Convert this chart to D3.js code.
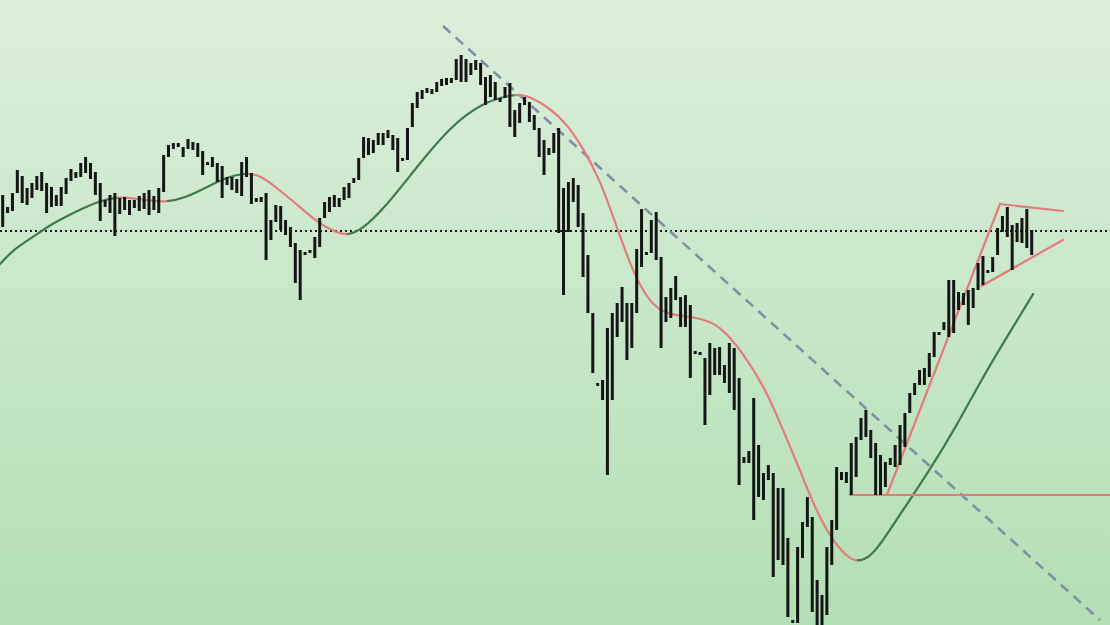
<!DOCTYPE html>
<html>
<head>
<meta charset="utf-8">
<script src="https://cdn.jsdelivr.net/npm/d3@7"></script>
<style>
html,body{margin:0;padding:0;background:#cfe9cf;}
svg{display:block;}
</style>
</head>
<body>
<svg id="chart" width="1110" height="625"></svg>
<script>
// ---- data (bar index = trading session, prices in index points) ----
const highs = [5050,4930,5070,5300,5240,5120,5170,5240,5280,5170,5130,5050,5130,5220,5310,5280,5370,5430,5370,5280,
5170,5000,5050,5070,5020,5030,5000,5000,5040,5070,5100,5040,5120,5450,5550,5570,5570,5530,5610,5580,
5570,5490,5380,5430,5370,5340,5230,5230,5210,5380,5430,5270,5020,5030,5070,4800,4950,4940,4800,4730,
4570,4500,4480,4500,4630,4820,4980,5030,5050,5020,5130,5170,5220,5420,5630,5620,5600,5670,5670,5700,
5650,5620,5420,5720,5970,6080,6100,6120,6110,6180,6210,6220,6220,6410,6450,6410,6370,6400,6370,6230,
6250,6180,6020,6130,6170,5900,5970,6030,5980,5850,5720,5600,5520,5670,5720,5120,5180,5220,5150,4870,
4450,3870,3170,3200,3720,3870,3970,4130,3970,3970,4510,4910,4480,4800,4880,4430,4030,4120,4240,4030,
4050,3950,3490,3480,3420,3570,3520,3530,3350,3570,3520,3220,2430,2490,3020,2550,2270,2350,2270,2120,
2120,1620,800,1530,1780,2030,1830,1200,1050,1530,1800,2330,2280,2280,2570,2630,2820,2900,2700,2570,
2450,2380,2420,2550,2750,2870,3070,3170,3300,3320,3470,3680,3680,3780,4200,4200,4080,4070,4100,4120,
4370,4440,4300,4430,4720,4840,4930,4750,4770,4820,4910,4700];
const lows = [4730,4870,4890,5070,4970,4950,5020,5100,5090,4870,4930,4940,4940,5060,5190,5220,5230,5270,5210,5050,
4790,4930,4870,4640,4860,4900,4850,4920,4890,4910,4850,4900,4870,5080,5430,5510,5530,5430,5510,5500,
5430,5250,5350,5330,5180,5020,5150,5100,5070,5040,5230,4960,4980,4980,4400,4600,4780,4700,4650,4530,
4170,4000,4460,4470,4420,4530,4820,4880,4930,4930,5000,5020,5170,5200,5420,5450,5470,5550,5550,5620,
5500,5280,5400,5400,5730,5920,6010,6070,6060,6080,6140,6150,6170,6200,6180,6180,6250,6300,6150,5950,
6030,6000,5980,6020,5730,5630,5770,5950,5780,5700,5430,5250,5450,5470,4670,4050,4680,4980,4730,4230,
3870,3270,3150,3000,2250,3000,3630,3780,3400,3520,3870,4330,4450,4470,4400,3520,3780,3820,4000,3730,
3730,3220,3470,3470,2750,3050,3250,3250,3170,3070,2900,2150,2370,2370,1800,2030,2000,2200,1230,1400,
1350,830,770,770,1420,1730,880,750,750,850,1350,1700,2200,2170,2050,2230,2600,2630,2420,2050,
2050,2130,2350,2330,2350,2530,2870,3050,3150,3150,3230,3430,3650,3700,3630,3670,3900,3950,3750,3920,
4100,4150,4280,4280,4450,4680,4630,4300,4580,4570,4520,4450];

// moving average (bar index, value)
const maIdx = [-0.55,2.1,6.2,9.7,13.2,16.5,19.95,23.4,26.7,30.2,33.7,37.4,41.9,46.0,49.7,52.8,56.2,61.0,64.4,68.5,
70.6,73.3,78.0,84.9,91.7,98.5,105.0,107.5,112.2,115.7,119.0,122.5,126.0,129.2,132.7,136.2,142.4,147.1,151.8,
156.3,159.4,162.9,166.1,169.6,173.1,175.2,177.8,179.9,184.6,190.1,195.7,200.4,205.9,211.3];
const maVal = [4360,4500,4630,4750,4840,4920,4990,5030,5020,4990,4980,5020,5130,5230,5270,5250,5120,4930,4780,4670,
4650,4690,4900,5330,5730,5980,6060,6050,5920,5760,5520,5200,4720,4280,3970,3850,3830,3750,3470,
3120,2770,2370,1970,1630,1430,1380,1430,1550,1900,2300,2750,3180,3630,4060];

// drawn annotations: [barIndex, price]
const resistanceLevel = 4690;
const downTrend = [[90.3, 6740], [225, 800]];
const supportLine = [[173.7, 2050], [227.5, 2050]];
const upTrend = [[181.3, 2050], [204.5, 4960]];
const pennantTop = [[204.5, 4960], [217.4, 4890]];
const pennantBottom = [[200.7, 4140], [217.4, 4600]];

// ---- drawing ----
const W = 1110, H = 625;
const svg = d3.select("#chart");
const x = d3.scaleLinear().domain([0, highs.length - 1]).range([2.7, 1031.7]);
const y = d3.scaleLinear().domain([750, 7000]).range([H, 0]);

const defs = svg.append("defs");
const grad = defs.append("linearGradient").attr("id", "bg").attr("x1", 0).attr("y1", 0).attr("x2", 0).attr("y2", 1);
grad.append("stop").attr("offset", "0%").attr("stop-color", "#dcefdb");
grad.append("stop").attr("offset", "100%").attr("stop-color", "#b3dfb5");
svg.append("rect").attr("width", W).attr("height", H).attr("fill", "url(#bg)");

// dotted resistance
svg.append("line")
  .attr("x1", 0).attr("x2", W)
  .attr("y1", y(resistanceLevel)).attr("y2", y(resistanceLevel))
  .attr("stroke", "#1a1a1a").attr("stroke-width", 2).attr("stroke-dasharray", "2,3");

// dashed downtrend
const seg = d3.line().x(d => x(d[0])).y(d => y(d[1]));
svg.append("path").attr("d", seg(downTrend))
  .attr("fill", "none").attr("stroke", "#7e90a2").attr("stroke-width", 2.6).attr("stroke-dasharray", "10,7");

// moving average: one smooth curve, coloured by slope via clip regions
const maPts = maIdx.map((d, i) => [d, maVal[i]]);
const splits = [maIdx[0]];
const dirs = [];
let dir = Math.sign(maVal[1] - maVal[0]);
for (let i = 1; i < maVal.length; i++) {
  const dnow = Math.sign(maVal[i] - maVal[i - 1]);
  if (dnow !== 0 && dnow !== dir) { splits.push(maIdx[i - 1]); dirs.push(dir); dir = dnow; }
}
splits.push(maIdx[maIdx.length - 1]);
dirs.push(dir);
const maLine = d3.line().x(d => x(d[0])).y(d => y(d[1])).curve(d3.curveBasis);
const maD = maLine(maPts);
dirs.forEach((dv, k) => {
  const id = "maclip" + k;
  const x0 = k === 0 ? -10 : x(splits[k]);
  const x1 = k === dirs.length - 1 ? W + 10 : x(splits[k + 1]);
  defs.append("clipPath").attr("id", id).append("rect")
    .attr("x", x0).attr("y", -10).attr("width", x1 - x0).attr("height", H + 20);
  svg.append("path").attr("d", maD)
    .attr("clip-path", `url(#${id})`)
    .attr("fill", "none")
    .attr("stroke", dv > 0 ? "#3f7a4c" : "#e27c7c")
    .attr("stroke-width", 2.2)
    .attr("stroke-linecap", "round");
});

// red pattern lines
[supportLine, upTrend, pennantTop, pennantBottom].forEach(l => {
  svg.append("path").attr("d", seg(l))
    .attr("fill", "none").attr("stroke", "#e27c7c").attr("stroke-width", 2.2).attr("stroke-linecap", "round");
});

// high-low bars
svg.append("g").selectAll("rect").data(highs).join("rect")
  .attr("x", (d, i) => x(i) - 1.5)
  .attr("width", 3)
  .attr("y", (d, i) => y(d))
  .attr("height", (d, i) => Math.max(3, y(lows[i]) - y(d)))
  .attr("fill", "#141614");
</script>
</body>
</html>
